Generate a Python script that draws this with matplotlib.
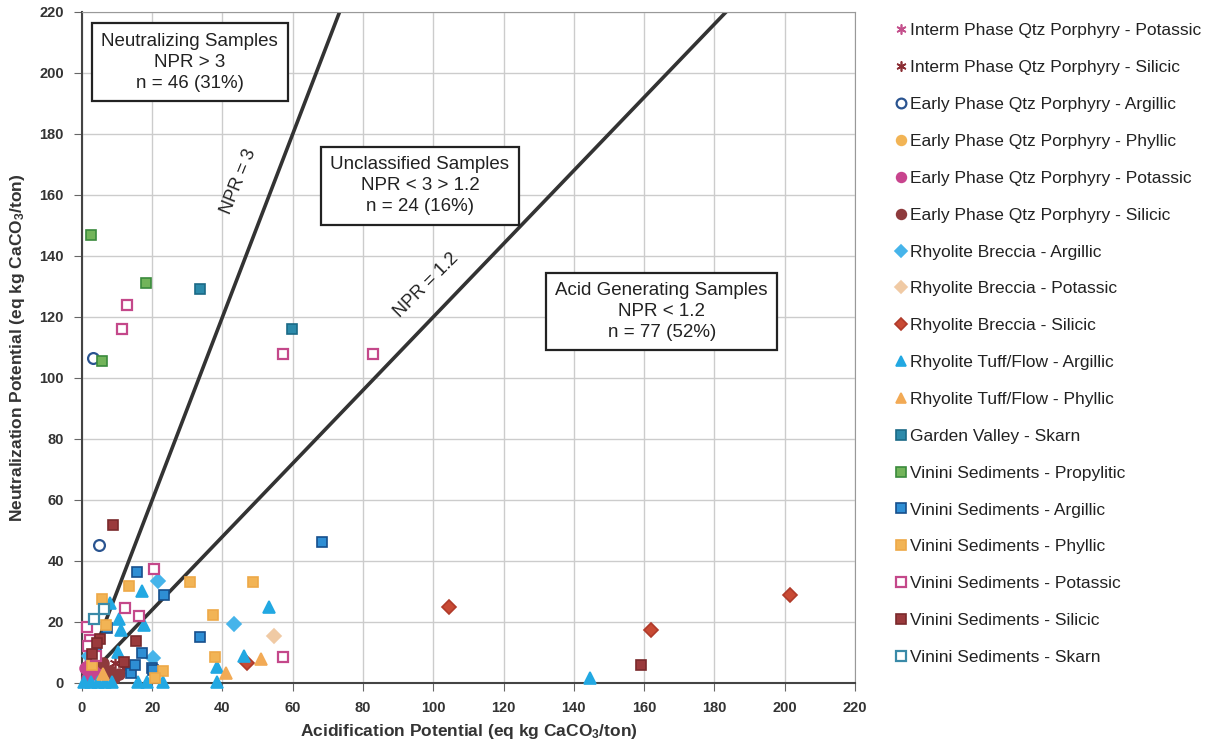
import matplotlib
matplotlib.use("Agg")
import numpy as np
import matplotlib.pyplot as plt

plt.rcParams['font.family'] = ['Liberation Sans', 'DejaVu Sans']
plt.rcParams['mathtext.default'] = 'regular'

# sample series: (acidification potential, neutralization potential)
interm_potassic_ap = [1.5, 3.0]
interm_potassic_np = [6.0, 4.0]
interm_silicic_ap = [12.0, 9.5]
interm_silicic_np = [5.0, 6.5]
early_argillic_ap = [3.1, 4.8]
early_argillic_np = [106.7, 45.3]
early_phyllic_ap = [2.0, 5.0]
early_phyllic_np = [2.5, 5.5]
early_potassic_ap = [0.8, 2.2, 3.5, 1.5, 4.5]
early_potassic_np = [5.0, 7.0, 3.0, 1.5, 4.0]
early_silicic_ap = [8.0, 10.5, 6.0, 9.0]
early_silicic_np = [4.0, 3.0, 6.5, 1.5]
breccia_argillic_ap = [21.7, 43.3, 20.3, 2.0]
breccia_argillic_np = [33.3, 19.4, 8.1, 9.0]
breccia_potassic_ap = [54.6]
breccia_potassic_np = [15.4]
breccia_silicic_ap = [104.4, 161.9, 201.5, 47.0]
breccia_silicic_np = [25.0, 17.4, 28.9, 6.5]
tuff_argillic_ap = [17.0, 53.3, 8.0, 10.6, 17.6, 10.3, 46.0, 38.3, 38.3, 23.0,
                    16.0, 18.4, 144.7, 0.5, 2.5, 4.5, 6.5, 8.5, 11.0, 3.5]
tuff_argillic_np = [30.3, 24.9, 26.2, 20.9, 19.0, 10.3, 8.7, 5.3, 0.4, 0.4,
                    0.4, 0.4, 1.8, 0.4, 0.4, 0.4, 0.4, 0.4, 17.5, 10.0]
tuff_phyllic_ap = [51.0, 41.0, 6.0]
tuff_phyllic_np = [7.8, 3.4, 3.0]
garden_skarn_ap = [33.6, 59.8]
garden_skarn_np = [129.0, 116.0]
vinini_propylitic_ap = [2.6, 18.2, 5.7]
vinini_propylitic_np = [146.8, 131.0, 105.7]
vinini_argillic_ap = [15.8, 23.4, 68.3, 33.6, 17.0, 19.8, 14.1, 20.1, 7.0, 15.1, 4.0]
vinini_argillic_np = [36.5, 28.9, 46.3, 15.2, 9.7, 4.8, 3.4, 4.3, 18.0, 5.9, 12.0]
vinini_phyllic_ap = [13.5, 30.7, 48.6, 5.6, 6.8, 37.2, 37.8, 23.1, 20.8, 3.0]
vinini_phyllic_np = [31.9, 33.1, 33.1, 27.5, 19.0, 22.3, 8.6, 4.0, 1.6, 6.0]
vinini_potassic_ap = [12.8, 11.4, 57.2, 82.8, 20.5, 12.2, 16.3, 1.3, 2.3, 57.1, 1.8, 4.0]
vinini_potassic_np = [123.8, 116.0, 107.7, 107.7, 37.4, 24.5, 21.8, 18.3, 14.1, 8.4, 12.0, 9.0]
vinini_silicic_ap = [8.7, 159.1, 15.4, 5.1, 4.2, 12.0, 3.0]
vinini_silicic_np = [51.9, 5.9, 13.9, 14.3, 13.0, 7.0, 9.5]
vinini_skarn_ap = [6.3, 3.5]
vinini_skarn_np = [24.2, 21.0]

npr_lines = [3.0, 1.2]

# (label, x, y, marker, face, edge)
series = [
    ("Interm Phase Qtz Porphyry - Potassic", interm_potassic_ap, interm_potassic_np, (6, 2, 0), '#c4508c', '#c4508c'),
    ("Interm Phase Qtz Porphyry - Silicic", interm_silicic_ap, interm_silicic_np, (6, 2, 0), '#8b2e34', '#8b2e34'),
    ("Early Phase Qtz Porphyry - Argillic", early_argillic_ap, early_argillic_np, 'o', 'none', '#2a5490'),
    ("Early Phase Qtz Porphyry - Phyllic", early_phyllic_ap, early_phyllic_np, 'o', '#f2b455', '#f2b455'),
    ("Early Phase Qtz Porphyry - Potassic", early_potassic_ap, early_potassic_np, 'o', '#c8448e', '#c8448e'),
    ("Early Phase Qtz Porphyry - Silicic", early_silicic_ap, early_silicic_np, 'o', '#8e3a3c', '#8e3a3c'),
    ("Rhyolite Breccia - Argillic", breccia_argillic_ap, breccia_argillic_np, 'D', '#46b4ea', '#46b4ea'),
    ("Rhyolite Breccia - Potassic", breccia_potassic_ap, breccia_potassic_np, 'D', '#f0caa4', '#f0caa4'),
    ("Rhyolite Breccia - Silicic", breccia_silicic_ap, breccia_silicic_np, 'D', '#c84a34', '#b03a2a'),
    ("Rhyolite Tuff/Flow - Argillic", tuff_argillic_ap, tuff_argillic_np, '^', '#22a8e2', '#22a8e2'),
    ("Rhyolite Tuff/Flow - Phyllic", tuff_phyllic_ap, tuff_phyllic_np, '^', '#f2aa55', '#f2aa55'),
    ("Garden Valley - Skarn", garden_skarn_ap, garden_skarn_np, 's', '#2c8aaa', '#1b6a86'),
    ("Vinini Sediments - Propylitic", vinini_propylitic_ap, vinini_propylitic_np, 's', '#72b45a', '#3a8a3c'),
    ("Vinini Sediments - Argillic", vinini_argillic_ap, vinini_argillic_np, 's', '#2e8ed4', '#174f8c'),
    ("Vinini Sediments - Phyllic", vinini_phyllic_ap, vinini_phyllic_np, 's', '#f2b455', '#eea948'),
    ("Vinini Sediments - Potassic", vinini_potassic_ap, vinini_potassic_np, 's', 'white', '#c4488a'),
    ("Vinini Sediments - Silicic", vinini_silicic_ap, vinini_silicic_np, 's', '#9a3a3c', '#7a2a2c'),
    ("Vinini Sediments - Skarn", vinini_skarn_ap, vinini_skarn_np, 's', 'white', '#3a8aa8'),
]

marker_sizes = {'D': 7.2, '^': 8.5, 'o': 7.8, 's': 7.4}

fig = plt.figure(figsize=(12.05, 7.44), dpi=100)
ax = fig.add_axes([0.068, 0.082, 0.6415, 0.902])

ax.set_xlim(0, 220)
ax.set_ylim(0, 220)
ax.set_xticks(np.arange(0, 221, 20))
ax.set_yticks(np.arange(0, 221, 20))
ax.grid(True, color='#cccccc', linewidth=1.0)
ax.set_axisbelow(True)
for side in ['top', 'right']:
    ax.spines[side].set_color('#999999')
for side in ['left', 'bottom']:
    ax.spines[side].set_color('#444444')
    ax.spines[side].set_linewidth(1.5)
ax.tick_params(axis='both', direction='out', length=6, color='#666666',
               labelsize=10.5, labelcolor='#333333', pad=7)
for lab in ax.get_xticklabels() + ax.get_yticklabels():
    lab.set_fontweight('bold')

# NPR reference lines through the origin
xs = np.array([0, 220])
for r in npr_lines:
    ax.plot(xs, r * xs, color='#333333', linewidth=2.6, zorder=2)

for label, x, y, m, fc, ec in series:
    lw = 1.6 if fc in ('none', 'white') else 1.2
    ax.plot(x, y, linestyle='none', marker=m, markersize=marker_sizes.get(m, 8),
            markerfacecolor=fc, markeredgecolor=ec, markeredgewidth=lw,
            label=label, clip_on=False, zorder=3)

box = dict(boxstyle='square,pad=0.5', facecolor='white', edgecolor='#222222', linewidth=1.6)
ax.text(30.7, 203.5, "Neutralizing Samples\nNPR > 3\nn = 46 (31%)", ha='center', va='center',
        fontsize=13.5, color='#222222', linespacing=1.3, bbox=box, zorder=5)
ax.text(96.2, 163.0, "Unclassified Samples\nNPR < 3 > 1.2\nn = 24 (16%)", ha='center', va='center',
        fontsize=13.5, color='#222222', linespacing=1.3, bbox=box, zorder=5)
ax.text(165.0, 121.8, "Acid Generating Samples\nNPR < 1.2\nn = 77 (52%)", ha='center', va='center',
        fontsize=13.5, color='#222222', linespacing=1.3, bbox=box, zorder=5)

ax.text(44.5, 164.5, "NPR = 3", rotation=68, ha='center', va='center', fontsize=13, color='#222222')
ax.text(98.0, 130.5, "NPR = 1.2", rotation=45, ha='center', va='center', fontsize=13, color='#222222')

ax.set_xlabel("Acidification Potential (eq kg CaCO$_3$/ton)", fontsize=12.5, fontweight='bold',
              color='#333333', labelpad=5)
ax.set_ylabel("Neutralization Potential (eq kg CaCO$_3$/ton)", fontsize=12.5, fontweight='bold',
              color='#333333', labelpad=9)

handles, labels = ax.get_legend_handles_labels()
fig.legend(handles, labels, loc='upper left', bbox_to_anchor=(0.738, 0.978), frameon=False,
           fontsize=12.5, labelspacing=1.25, handlelength=0.5, handletextpad=0.3,
           labelcolor='#222222', borderaxespad=0, markerscale=0.9)

fig.savefig("out.png", dpi=100)
